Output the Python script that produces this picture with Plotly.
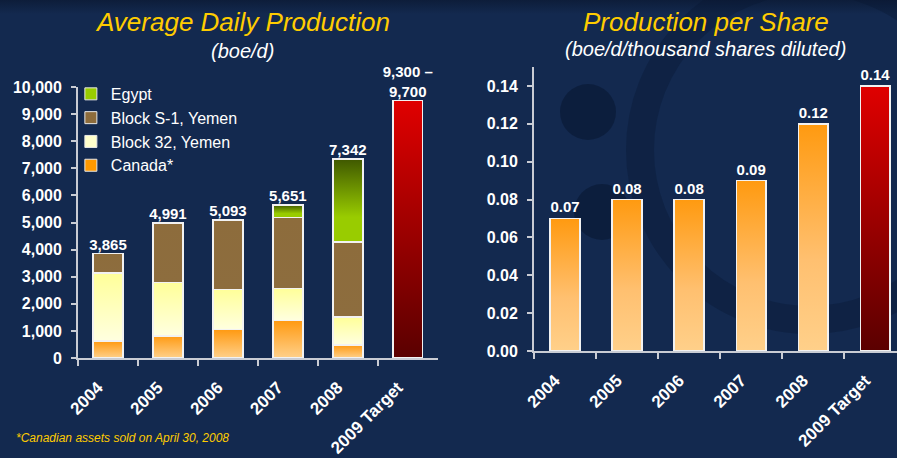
import base64
import plotly.graph_objects as go

# ---------------- data ----------------
years = ["2004", "2005", "2006", "2007", "2008", "2009 Target"]
canada = [620, 820, 1045, 1380, 480]
block32 = [2520, 1970, 1490, 1190, 1030]
block_s1 = [725, 2201, 2558, 2620, 2770]
egypt = [None, None, None, 461, 3062]
target_value = 9500
total_labels = ["3,865", "4,991", "5,093", "5,651", "7,342", "9,300 –<br>9,700"]
totals = [3865, 4991, 5093, 5651, 7342, 9500]

per_share = [0.07, 0.08, 0.08, 0.09, 0.12, 0.14]
per_share_labels = ["0.07", "0.08", "0.08", "0.09", "0.12", "0.14"]

left_ticks = [0, 1000, 2000, 3000, 4000, 5000, 6000, 7000, 8000, 9000, 10000]
right_ticks = [0.0, 0.02, 0.04, 0.06, 0.08, 0.10, 0.12, 0.14]

# ---------------- style ----------------
BG = "#13294f"
AXIS = "#c9ccd4"
OUTLINE = "#f2f2f2"
FONT = "Arial, Liberation Sans, sans-serif"
W, H = 897, 458


def grad_uri(stops):
    st = "".join(f'<stop offset="{o}" stop-color="{c}"/>' for o, c in stops)
    svg = ('<svg xmlns="http://www.w3.org/2000/svg" width="10" height="100" '
           'viewBox="0 0 10 100" preserveAspectRatio="none"><defs>'
           '<linearGradient id="g" x1="0" y1="0" x2="0" y2="1">' + st +
           '</linearGradient></defs><rect width="10" height="100" fill="url(#g)"/></svg>')
    return "data:image/svg+xml;base64," + base64.b64encode(svg.encode()).decode()


G_CANADA = grad_uri([(0, "#ff9a12"), (1, "#ffd08a")])
G_B32 = grad_uri([(0, "#ffff99"), (1, "#ffffe0")])
G_S1 = grad_uri([(0, "#8d6c3c"), (1, "#8d6d3e")])
G_EGYPT = grad_uri([(0, "#3f5800"), (0.7, "#99cc00"), (1, "#99cc00")])
G_RED = grad_uri([(0, "#e00000"), (1, "#5a0000")])
G_ORANGE = grad_uri([(0, "#ff9a10"), (0.6, "#ffc070"), (1, "#ffd08a")])
G_TOP = grad_uri([(0, "#0d1d3a"), (1, BG)])

fig = go.Figure()
images = []

# ---------------- left chart ----------------
series = [
    ("Canada*", canada, G_CANADA, "#ff9900"),
    ("Block 32, Yemen", block32, G_B32, "#ffffcc"),
    ("Block S-1, Yemen", block_s1, G_S1, "#8d6c3c"),
    ("Egypt", egypt, G_EGYPT, "#99cc00"),
]
bases = [0] * len(canada)
for name, vals, uri, col in series:
    fig.add_bar(x=years[:5], y=vals, width=0.5, xaxis="x", yaxis="y",
                marker=dict(color="rgba(0,0,0,0)", line=dict(color=OUTLINE, width=1.5)),
                showlegend=False, hoverinfo="skip")
    for i, v in enumerate(vals):
        if v:
            images.append(dict(source=uri, xref="x", yref="y", x=i - 0.25, y=bases[i] + v,
                               sizex=0.5, sizey=v, xanchor="left", yanchor="top",
                               sizing="stretch", layer="below"))
            bases[i] += v

fig.add_bar(x=[years[5]], y=[target_value], width=0.5, xaxis="x", yaxis="y",
            marker=dict(color="rgba(0,0,0,0)", line=dict(color=OUTLINE, width=1.5)),
            showlegend=False, hoverinfo="skip")
images.append(dict(source=G_RED, xref="x", yref="y", x=5 - 0.25, y=target_value,
                   sizex=0.5, sizey=target_value, xanchor="left", yanchor="top",
                   sizing="stretch", layer="below"))

fig.add_scatter(x=years, y=totals, text=total_labels, mode="text", textposition="top center",
                textfont=dict(family=FONT, size=15, color="white", weight="bold"),
                xaxis="x", yaxis="y", showlegend=False, cliponaxis=False, hoverinfo="skip")

# legend entries (top to bottom)
for name, vals, uri, col in reversed(series):
    fig.add_bar(x=[None], y=[None], name=name, xaxis="x", yaxis="y",
                marker=dict(color=col, line=dict(color="#e8e8e8", width=1)))

# ---------------- right chart ----------------
fig.add_bar(x=years, y=per_share, width=0.48, xaxis="x2", yaxis="y2",
            marker=dict(color="rgba(0,0,0,0)", line=dict(color=OUTLINE, width=1.5)),
            text=per_share_labels, textposition="outside", cliponaxis=False,
            textfont=dict(family=FONT, size=15, color="white", weight="bold"),
            showlegend=False, hoverinfo="skip")
for i, v in enumerate(per_share):
    images.append(dict(source=G_RED if i == 5 else G_ORANGE, xref="x2", yref="y2",
                       x=i - 0.24, y=v, sizex=0.48, sizey=v, xanchor="left", yanchor="top",
                       sizing="stretch", layer="below"))

# darker band at the very top of the slide
images.append(dict(source=G_TOP, xref="paper", yref="paper", x=0, y=1, sizex=1,
                   sizey=14 / H, xanchor="left", yanchor="top", sizing="stretch", layer="below"))

tickfont = dict(family=FONT, size=16, color="white", weight="bold")
xfont = dict(family=FONT, size=17, color="white", weight="bold")
common_x = dict(type="category", tickson="boundaries", ticks="outside", ticklen=6,
                tickcolor=AXIS, tickwidth=1.5, showline=True, linecolor=AXIS, linewidth=2,
                tickangle=-45, tickfont=xfont, showgrid=False, zeroline=False,
                ticklabelstandoff=11, ticklabelshift=-10,
                categoryorder="array", categoryarray=years, automargin=False)
common_y = dict(showgrid=False, zeroline=False, showline=True, linecolor=AXIS, linewidth=2,
                ticks="outside", ticklen=5, tickcolor=AXIS, tickwidth=1.5, tickfont=tickfont,
                ticklabelstandoff=6, automargin=False)


def ann(text, x, y, size, color, anchor="center"):
    return dict(text=text, x=x / W, y=1 - y / H, xref="paper", yref="paper",
                xanchor=anchor, yanchor="middle", showarrow=False,
                font=dict(family=FONT, size=size, color=color, style="italic"))


def circ(cx, cy, r, **kw):
    return dict(type="circle", xref="paper", yref="paper", layer="below",
                x0=(cx - r) / W, x1=(cx + r) / W, y0=1 - (cy + r) / H, y1=1 - (cy - r) / H, **kw)


WM = "rgba(8,22,48,0.55)"
shapes = [
    circ(588, 112, 28, fillcolor=WM, line=dict(width=0)),
    circ(602, 212, 28, fillcolor=WM, line=dict(width=0)),
    circ(810, 150, 170, fillcolor="rgba(0,0,0,0)", line=dict(color="rgba(8,22,48,0.35)", width=28)),
]

fig.update_layout(
    width=W, height=H,
    margin=dict(l=0, r=0, t=0, b=0, autoexpand=False),
    paper_bgcolor=BG, plot_bgcolor="rgba(0,0,0,0)",
    barmode="stack",
    images=images,
    shapes=shapes,
    xaxis=dict(domain=[0.087, 0.488], anchor="y", range=[-0.5, 5.5], **common_x),
    yaxis=dict(domain=[0.2183, 0.81], anchor="x", range=[0, 10000], tickvals=left_ticks,
               tickformat=",", **common_y),
    xaxis2=dict(domain=[0.5953, 1.0], anchor="y2", range=[-0.5, 5.35], **common_x),
    yaxis2=dict(domain=[0.2336, 0.8537], anchor="x2", range=[0, 0.15], tickvals=right_ticks,
                tickformat=".2f", **common_y),
    legend=dict(x=0.079, y=0.832, xanchor="left", yanchor="top", traceorder="normal",
                bgcolor="rgba(0,0,0,0)", font=dict(family=FONT, size=16, color="white")),
    showlegend=True,
    annotations=[
        ann("Average Daily Production", 242, 22, 26, "#ffcc00"),
        ann("(boe/d)", 242, 51, 20, "white"),
        ann("Production per Share", 706, 22, 26, "#ffcc00"),
        ann("(boe/d/thousand shares diluted)", 705, 49, 20, "white"),
        ann("*Canadian assets sold on April 30, 2008", 14, 438, 12, "#ffcc00", "left"),
    ],
)

fig.write_html("out.html", config={"displayModeBar": False},
               post_script="document.body.style.margin='0';document.body.style.background='" + BG + "';")
